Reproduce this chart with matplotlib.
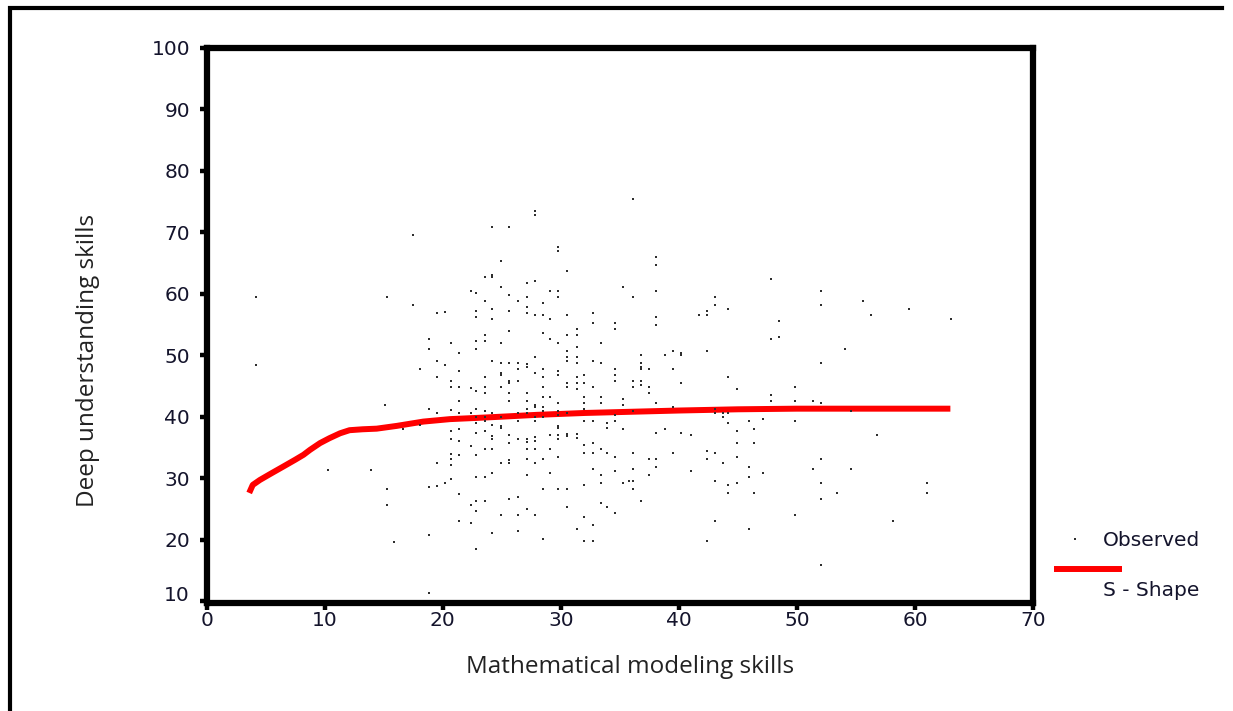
import matplotlib
matplotlib.use("Agg")
import matplotlib.pyplot as plt
from matplotlib.lines import Line2D
import matplotlib.transforms as mtransforms

# ---------------- data ----------------
obs_x = [
    17.46, 4.2, 15.25, 17.46, 22.4, 19.5, 20.2,
    4.2, 18.8, 20.7, 18.8, 21.4, 19.5, 20.2, 18.1, 21.4, 19.5, 20.7, 20.7, 21.4, 22.4,
    15.1, 21.4, 18.8, 19.5, 20.7, 21.4, 22.4, 16.6, 18.1, 20.7, 21.4, 20.7, 21.4, 22.4,
    20.7, 21.4, 20.7,
    10.3, 13.9, 15.25, 15.25, 15.9, 18.8, 18.8, 19.5, 20.7, 18.8, 19.5, 20.2, 20.7,
    21.4, 22.4, 21.4, 22.4,
    36.1, 27.8, 27.8, 24.2, 25.6, 29.8, 29.8, 24.9, 38.1, 38.1, 23.6, 24.2, 24.2, 30.5,
    27.1, 27.8, 24.9, 35.3, 22.8, 29.1, 29.8, 25.6, 27.1, 29.8, 36.1, 38.1, 23.6, 26.4,
    28.5, 27.1, 22.8, 24.2, 25.6, 27.1, 27.8, 28.5, 30.5, 32.7, 22.8, 24.2, 29.1, 38.1,
    32.7, 34.6, 38.1, 34.6, 31.4, 25.6, 28.5, 22.8, 23.6, 23.6, 29.1, 30.5, 31.4, 24.9,
    29.8, 33.4, 22.8, 31.4, 30.5, 27.8, 30.5, 31.4, 30.5, 24.2, 32.7, 24.9, 25.6, 26.4,
    27.1, 27.1, 31.4, 33.4, 36.8, 36.8, 36.8, 36.8, 26.4, 28.5, 37.5, 34.6, 24.9, 24.9,
    27.8, 29.8, 29.8, 32.0, 34.6, 23.6, 28.5, 31.4, 26.4, 25.6, 25.6, 34.6, 36.1, 36.8,
    36.8, 30.5, 31.4, 32.0, 23.6, 24.9, 28.5, 30.5, 32.7, 36.1, 37.5, 31.4, 22.8, 23.6,
    25.6, 27.1, 37.5,
    25.6, 27.1, 28.5, 29.1, 32.0, 33.4, 35.3, 32.0, 33.4, 29.8, 38.1, 22.8, 23.6, 24.2,
    27.1, 27.8, 27.8, 28.5, 26.4, 27.1, 28.5, 29.8, 32.0, 35.3, 30.5, 29.8, 22.8, 23.6,
    24.9, 27.8, 28.5, 34.6, 36.1, 23.6, 22.8, 26.4, 27.8, 32.0, 32.7, 34.6, 33.9, 33.9,
    24.2, 24.9, 24.9, 29.8, 29.8, 35.3, 22.8, 23.6, 25.6, 24.2, 24.2, 26.4, 27.1, 27.1,
    27.8, 27.8, 29.1, 29.8, 29.8, 30.5, 30.5, 31.4, 31.4, 38.1, 25.6, 32.0, 32.7, 23.6,
    24.2, 27.1, 27.8, 29.1, 33.4, 32.0, 32.7, 33.9, 36.1, 22.8, 29.8, 34.6, 25.6, 25.6,
    27.1, 28.5, 37.5, 38.1, 24.9, 27.8, 38.1, 32.7, 36.1, 34.6, 24.2, 29.1, 22.8, 23.6,
    27.1, 33.4, 37.5, 35.8, 36.1, 33.4, 35.3, 32.0, 28.5, 29.8, 30.5, 36.1, 22.8, 23.6,
    25.6, 26.4, 36.8, 33.4, 22.8, 33.9, 30.5, 27.1, 34.6, 24.9, 26.4, 27.8, 32.0, 32.7,
    31.4, 24.2, 26.4, 28.5, 32.0, 32.7, 22.8,
    47.8, 52.0, 43.05, 43.05, 52.0, 42.4, 44.2, 41.7, 42.4, 48.5, 47.8, 48.5, 39.5, 38.8,
    40.2, 40.2, 42.4, 52.0, 39.5, 44.2, 40.2, 44.9, 49.8, 47.8,
    47.8, 49.8, 51.4, 52.0, 39.5, 43.05, 43.05, 43.7, 44.2, 43.7, 44.2, 45.9, 47.1, 49.8,
    38.8, 46.4, 44.9, 40.2, 41.0, 44.9, 46.4, 39.5, 42.4, 43.05, 42.4, 44.9, 52.0, 43.7,
    45.9, 51.4, 41.0, 47.1, 45.9, 43.05, 44.9, 44.2, 52.0, 44.2, 46.4, 53.4, 52.0, 49.8,
    43.05, 45.9, 42.4, 52.0,
    55.6, 59.5, 56.3, 63.05, 54.1,
    54.6, 56.8, 54.6, 61.0, 61.0, 58.1,
]
obs_y = [
    69.5, 59.4, 59.4, 58.1, 60.4, 56.8, 57.1,
    48.4, 52.6, 51.9, 51.0, 50.3, 49.0, 48.4, 47.7, 47.4, 46.4, 45.8, 44.8, 44.8, 44.6,
    41.9, 42.5, 41.2, 40.6, 41.1, 40.6, 40.6, 38.0, 38.6, 37.6, 38.0, 36.3, 36.0, 35.3,
    34.0, 33.7, 33.1,
    31.4, 31.4, 28.2, 25.6, 19.7, 20.7, 11.3, 32.4, 32.1, 28.5, 28.8, 29.2, 29.8,
    27.5, 25.6, 23.0, 22.7,
    75.4, 73.4, 72.8, 70.8, 70.8, 67.6, 66.9, 65.3, 66.0, 64.7, 62.7, 63.0, 62.7, 63.7,
    61.7, 62.1, 61.1, 61.1, 60.1, 60.4, 60.4, 59.8, 59.5, 59.5, 59.5, 60.4, 58.8, 58.8,
    58.5, 57.8, 57.2, 57.5, 57.2, 56.9, 56.5, 56.5, 56.5, 56.9, 56.2, 55.9, 55.9, 56.2,
    55.2, 55.2, 54.9, 54.3, 54.3, 53.9, 53.6, 52.3, 52.3, 53.3, 52.6, 53.3, 53.3, 52.0,
    52.0, 52.0, 51.0, 51.3, 50.7, 49.7, 49.7, 49.7, 49.0, 49.0, 49.0, 48.7, 48.7, 48.7,
    48.6, 48.1, 48.7, 48.7, 50.0, 48.7, 48.1, 47.8, 47.7, 47.7, 47.7, 47.7, 47.1, 46.8,
    47.1, 47.4, 46.8, 46.8, 46.8, 46.5, 46.5, 46.5, 45.8, 45.8, 45.5, 45.8, 45.8, 45.8,
    45.2, 45.5, 45.5, 45.5, 44.8, 44.8, 44.8, 44.8, 44.8, 44.8, 44.8, 44.5, 44.2, 43.8,
    43.8, 43.8, 43.8,
    42.6, 42.6, 43.2, 43.2, 43.2, 43.2, 42.9, 42.2, 42.2, 42.2, 42.2, 41.3, 40.9, 40.6,
    41.3, 41.9, 41.6, 41.6, 40.6, 40.6, 40.9, 40.9, 41.3, 41.9, 40.6, 40.3, 40.0, 40.0,
    40.0, 40.0, 40.0, 40.3, 40.9, 39.3, 39.0, 39.3, 39.3, 39.3, 39.3, 39.3, 38.9, 38.2,
    38.7, 38.5, 38.1, 38.5, 38.1, 38.0, 37.4, 37.7, 37.0, 36.8, 36.4, 36.4, 36.3, 35.9,
    36.7, 36.1, 37.0, 37.0, 36.4, 37.2, 36.9, 37.2, 36.5, 37.4, 35.7, 35.4, 35.7, 34.8,
    34.8, 34.8, 34.8, 34.8, 34.8, 34.1, 34.1, 34.1, 34.1, 33.8, 33.5, 33.5, 33.0, 32.5,
    33.1, 33.1, 33.1, 33.1, 32.5, 32.5, 31.8, 31.5, 31.5, 31.2, 30.9, 30.9, 30.2, 30.2,
    30.5, 30.5, 30.5, 29.5, 29.5, 29.2, 29.2, 28.9, 28.2, 28.2, 28.2, 28.2, 26.3, 26.3,
    26.6, 26.9, 26.3, 26.0, 24.7, 25.3, 25.3, 25.0, 24.3, 24.0, 24.0, 24.0, 23.7, 22.4,
    21.7, 21.1, 21.4, 20.1, 19.8, 19.8, 18.5,
    62.4, 60.4, 59.5, 58.2, 58.2, 57.2, 57.5, 56.5, 56.5, 55.6, 52.6, 53.0, 50.7, 50.0,
    50.4, 50.0, 50.7, 48.7, 47.8, 46.5, 45.5, 44.5, 44.8, 43.6,
    42.6, 42.6, 42.6, 42.2, 41.6, 41.3, 40.6, 40.6, 40.6, 40.0, 39.0, 39.3, 39.6, 39.3,
    38.0, 38.0, 37.7, 37.4, 37.0, 35.7, 35.7, 34.1, 34.4, 34.1, 33.1, 33.4, 33.1, 32.5,
    31.8, 31.5, 31.2, 30.9, 30.2, 29.5, 29.2, 28.9, 29.2, 27.6, 27.6, 27.6, 26.6, 24.0,
    23.0, 21.7, 19.8, 15.9,
    58.8, 57.5, 56.5, 55.9, 51.0,
    40.9, 37.0, 31.5, 29.2, 27.6, 23.0,
]

# S-shape fitted curve
fit_x = [3.6, 3.9, 4.5, 5.4, 6.5, 7.5, 8.2, 8.75, 9.6, 10.4, 11.3, 12.1, 13.2,
         14.4, 16.1, 18.35, 20.6, 22.9, 25.0, 28.0, 32.0, 36.0, 40.0, 45.0,
         50.0, 55.0, 63.0]
fit_y = [27.6, 28.9, 29.7, 30.7, 31.9, 33.0, 33.8, 34.6, 35.7, 36.5, 37.3, 37.8,
         37.95, 38.05, 38.5, 39.2, 39.6, 39.8, 40.0, 40.3, 40.6, 40.8, 41.0, 41.2,
         41.3, 41.3, 41.3]

x_ticks = [0, 10, 20, 30, 40, 50, 60, 70]
y_ticks = [10, 20, 30, 40, 50, 60, 70, 80, 90, 100]
x_label = "Mathematical modeling skills"
y_label = "Deep understanding skills"
legend_labels = ["Observed", "S - Shape"]

# ---------------- figure ----------------
W, H = 1233, 711
fig = plt.figure(figsize=(W / 100, H / 100), dpi=100)
fig.patch.set_facecolor("white")

tick_font = dict(family="DejaVu Sans", size=14.5, color="#14142c")
label_font = dict(family="Open Sans", size=17.5, color="#222222")

ax = fig.add_axes([206.7 / W, 1 - 603 / H, (1033 - 206.7) / W, (603 - 47.7) / H])
ax.set_xlim(0, 70)
ax.set_ylim(9.7, 100)

ax.plot(fit_x, fit_y, color="#ff0000", lw=4.3, solid_capstyle="butt",
        solid_joinstyle="round", zorder=2)
ax.plot(obs_x, obs_y, linestyle="none", marker="s", markersize=2.0,
        markeredgewidth=0, color="#2e2e2e", zorder=3)

for s in ax.spines.values():
    s.set_linewidth(4.5)
    s.set_color("black")

ax.set_xticks(x_ticks)
ax.set_yticks(y_ticks)
ax.set_xticklabels([str(v) for v in x_ticks], **tick_font)
ax.set_yticklabels([str(v) for v in y_ticks], **tick_font)
ax.tick_params(axis="both", direction="out", length=5, width=3.2, color="black")
ax.tick_params(axis="y", pad=7)
ax.tick_params(axis="x", pad=1)

# the lowest y label sits slightly above its tick, as in the original
lbl10 = ax.get_yticklabels()[0]
lbl10.set_transform(lbl10.get_transform() +
                    mtransforms.ScaledTranslation(0, 8 / 100, fig.dpi_scale_trans))

fig.text(630 / W, 1 - 667 / H, x_label, ha="center", va="center", **label_font)
fig.text(88 / W, 1 - 360 / H, y_label, ha="center", va="center", rotation=90,
         **label_font)

# legend (SPSS style, drawn manually)
fig.add_artist(Line2D([1075 / W], [1 - 539 / H], linestyle="none", marker="s",
                      markersize=2.0, markeredgewidth=0, color="#2e2e2e"))
fig.add_artist(Line2D([1054 / W, 1122 / W], [1 - 569 / H, 1 - 569 / H],
                      color="#ff0000", lw=4.3, solid_capstyle="butt"))
fig.text(1103 / W, 1 - 541 / H, legend_labels[0], ha="left", va="center", **tick_font)
fig.text(1103 / W, 1 - 591 / H, legend_labels[1], ha="left", va="center", **tick_font)

# outer frame (left and top edges)
fig.add_artist(Line2D([10 / W, 10 / W, 1222 / W], [0, 1 - 8 / H, 1 - 8 / H],
                      color="black", lw=3, solid_joinstyle="miter"))

fig.savefig("out.png", dpi=100, facecolor="white")
